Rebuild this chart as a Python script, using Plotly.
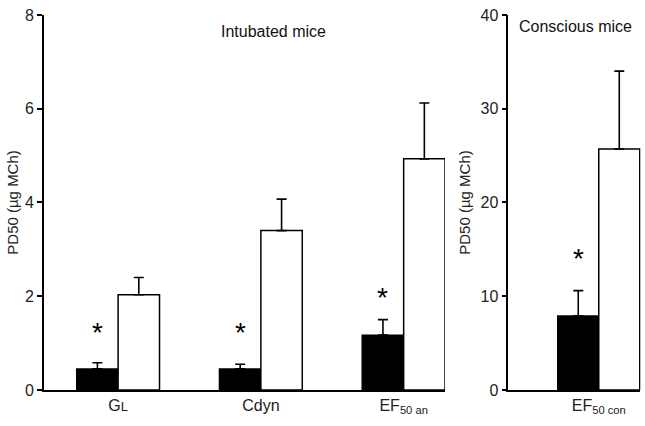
import plotly.graph_objects as go

# Intubated mice (left panel)
categories_left = ["G<span style='font-size:13px'>L</span>", "Cdyn", "EF<sub>50 an</sub>"]
treated_left = [0.45, 0.45, 1.17]
treated_left_err = [0.13, 0.10, 0.33]
control_left = [2.03, 3.40, 4.93]
control_left_err = [0.37, 0.67, 1.19]
star_left = [1.22, 1.22, 1.97]

# Conscious mice (right panel)
categories_right = ["EF<sub>50 con</sub>"]
treated_right = [7.9]
treated_right_err = [2.7]
control_right = [25.7]
control_right_err = [8.3]
star_right = [14.0]

yticks_left = [0, 2, 4, 6, 8]
yticks_right = [0, 10, 20, 30, 40]

FONT = "Liberation Sans, Arial, Helvetica, sans-serif"

fig = go.Figure()
xl = list(range(len(categories_left)))
xr = list(range(len(categories_right)))

def err(v):
    return dict(type="data", array=v, arrayminus=[0] * len(v), symmetric=False,
                color="black", thickness=1.6, width=5)

fig.add_trace(go.Bar(x=xl, y=treated_left, error_y=err(treated_left_err),
                     marker=dict(color="black", line=dict(color="black", width=1.5)),
                     xaxis="x", yaxis="y", offsetgroup="a"))
fig.add_trace(go.Bar(x=xl, y=control_left, error_y=err(control_left_err),
                     marker=dict(color="white", line=dict(color="black", width=1.5)),
                     xaxis="x", yaxis="y", offsetgroup="b"))
fig.add_trace(go.Bar(x=xr, y=treated_right, error_y=err(treated_right_err),
                     marker=dict(color="black", line=dict(color="black", width=1.5)),
                     xaxis="x2", yaxis="y2", offsetgroup="a"))
fig.add_trace(go.Bar(x=xr, y=control_right, error_y=err(control_right_err),
                     marker=dict(color="white", line=dict(color="black", width=1.5)),
                     xaxis="x2", yaxis="y2", offsetgroup="b"))

ann = []
for i, s in enumerate(star_left):
    ann.append(dict(x=xl[i] - 0.145, y=s, xref="x", yref="y", text="*", showarrow=False,
                    font=dict(size=28, family=FONT, color="black"), yanchor="middle",
                    xanchor="center"))
for i, s in enumerate(star_right):
    ann.append(dict(x=xr[i] - 0.145, y=s, xref="x2", yref="y2", text="*", showarrow=False,
                    font=dict(size=28, family=FONT, color="black"), yanchor="middle",
                    xanchor="center"))
ann.append(dict(x=0.424, y=0.925, xref="paper", yref="paper", text="Intubated mice",
                showarrow=False, xanchor="center", yanchor="middle",
                font=dict(size=16, family=FONT, color="#111")))
ann.append(dict(x=0.893, y=0.937, xref="paper", yref="paper", text="Conscious mice",
                showarrow=False, xanchor="center", yanchor="middle",
                font=dict(size=16, family=FONT, color="#111")))

axis_common = dict(showline=True, linecolor="black", linewidth=1.5, showgrid=False,
                   zeroline=False, automargin=False,
                   tickfont=dict(size=16, family=FONT, color="#222"))

fig.update_layout(
    width=645, height=426,
    margin=dict(l=0, r=0, t=0, b=0),
    paper_bgcolor="white", plot_bgcolor="white",
    showlegend=False,
    barmode="group", bargap=0.42, bargroupgap=0,
    annotations=ann,
    xaxis=dict(domain=[0.068, 0.69], range=[-0.52, 2.29], tickmode="array",
               tickvals=xl, ticktext=categories_left, ticks="", **axis_common),
    yaxis=dict(domain=[0.0845, 0.965], range=[0, 8], tickvals=yticks_left,
               ticks="outside", ticklen=5, tickwidth=1.5, tickcolor="black",
               title=dict(text="PD50 (µg MCh)", font=dict(size=15, family=FONT, color="#222"),
                          standoff=3),
               **axis_common),
    xaxis2=dict(domain=[0.788, 0.993], range=[-0.64, 0.295], tickmode="array",
                tickvals=xr, ticktext=categories_right, ticks="", anchor="y2", **axis_common),
    yaxis2=dict(domain=[0.0845, 0.965], range=[0, 40], tickvals=yticks_right, anchor="x2",
                ticks="outside", ticklen=5, tickwidth=1.5, tickcolor="black",
                title=dict(text="PD50 (µg MCh)", font=dict(size=15, family=FONT, color="#222"),
                           standoff=6),
                **axis_common),
)

fig.write_html("out.html", config={"displayModeBar": False},
               post_script="document.body.style.margin='0';document.body.style.overflow='hidden';")
